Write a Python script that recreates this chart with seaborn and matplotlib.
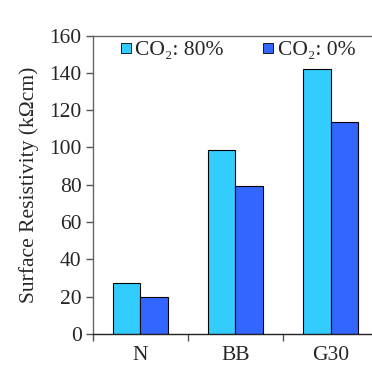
import matplotlib
matplotlib.use('Agg')
import matplotlib.pyplot as plt
from matplotlib.lines import Line2D
import numpy as np
import pandas as pd
import seaborn as sns

categories = ['N', 'BB', 'G30']
series = ['CO₂: 80%', 'CO₂: 0%']
co2_80 = [27.5, 98.5, 142.0]
co2_0 = [20.0, 79.5, 113.5]
colors = ['#33CCFF', '#3366FF']
yticks = [0, 20, 40, 60, 80, 100, 120, 140, 160]

df = pd.DataFrame({
    'cat': categories * 2,
    'grp': [series[0]] * 3 + [series[1]] * 3,
    'val': co2_80 + co2_0,
})

fs = 15.5
sns.set_style('white')
plt.rcParams['font.family'] = ['Liberation Serif', 'DejaVu Serif']
plt.rcParams['font.size'] = fs

fig = plt.figure(figsize=(3.72, 3.67), dpi=100)
ax = fig.add_axes([0.249, 0.090, 1.017 - 0.249, 0.903 - 0.090])
sns.barplot(data=df, x='cat', y='val', hue='grp', palette=colors, width=0.575,
            edgecolor='black', linewidth=0.8, ax=ax, legend=False, saturation=1)

ax.set_xlim(-0.5, 2.5)
ax.set_ylim(0, 160)
ax.set_yticks(yticks)
ax.set_xlabel('')
ax.set_ylabel('Surface Resistivity (kΩcm)', fontsize=fs, labelpad=7)

# category labels with no ticks, ticks between categories instead
ax.tick_params(axis='x', which='major', length=0, pad=9, labelsize=fs)
ax.set_xticks([-0.5, 0.5, 1.5, 2.5], minor=True)
ax.tick_params(axis='x', which='minor', direction='out', length=5, width=1, color='#555555', bottom=True)
ax.tick_params(axis='y', direction='out', length=5, width=1, color='#555555', left=True, labelsize=fs, pad=3)

for s in ['left', 'top']:
    ax.spines[s].set_color('#666666')
    ax.spines[s].set_linewidth(1)
ax.spines['bottom'].set_color('#222222')
ax.spines['bottom'].set_linewidth(1)
ax.spines['right'].set_visible(False)

handles = [Line2D([], [], marker='s', linestyle='', markersize=7,
                  markerfacecolor=c, markeredgecolor='black', markeredgewidth=0.6)
           for c in colors]
ax.legend(handles, series, loc='upper center', bbox_to_anchor=(0.5, 1.05), ncol=2,
          frameon=False, handletextpad=0.0, columnspacing=1.6, fontsize=fs,
          handlelength=0.9)

fig.savefig('out.png', dpi=100)
